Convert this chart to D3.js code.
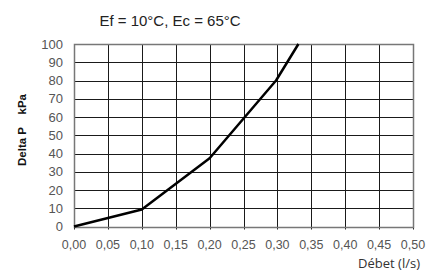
<!DOCTYPE html>
<html>
<head>
<meta charset="utf-8">
<script src="https://cdn.jsdelivr.net/npm/d3@7"></script>
<style>
  body { margin: 0; background: #fff; }
  svg { display: block; }
</style>
</head>
<body>
<div id="chart"></div>
<script>
// values
const debet = [0, 0.10, 0.20, 0.298, 0.331];
const deltaP = [0, 9.3, 37.4, 80, 100];
const xTicks = [0, 0.05, 0.10, 0.15, 0.20, 0.25, 0.30, 0.35, 0.40, 0.45, 0.50];
const yTicks = [0, 10, 20, 30, 40, 50, 60, 70, 80, 90, 100];
const title = 'Ef = 10°C, Ec = 65°C';
const xTitle = 'Débet (l/s)';
const yTitle = 'Delta P    kPa';

const width = 427, height = 273;
const margin = {left: 74, right: 14, top: 44, bottom: 46};

const svg = d3.select('#chart').append('svg')
    .attr('width', width)
    .attr('height', height);

const x = d3.scaleLinear().domain([0, 0.5]).range([margin.left, width - margin.right]);
const y = d3.scaleLinear().domain([0, 100]).range([height - margin.bottom - 0.5, margin.top]);

const fmt = d => d3.format('.2f')(d).replace('.', ',');

// grid
svg.append('g')
    .selectAll('line')
    .data(xTicks)
    .join('line')
    .attr('x1', d => Math.round(x(d)) + 0.5)
    .attr('x2', d => Math.round(x(d)) + 0.5)
    .attr('y1', y(100))
    .attr('y2', y(0) + 3)
    .attr('stroke', '#1a1a1a')
    .attr('stroke-width', 1);

svg.append('g')
    .selectAll('line')
    .data(yTicks)
    .join('line')
    .attr('x1', x(0))
    .attr('x2', x(0.5))
    .attr('y1', d => Math.round(y(d)) + 0.5)
    .attr('y2', d => Math.round(y(d)) + 0.5)
    .attr('stroke', '#1a1a1a')
    .attr('stroke-width', 1);

// frame
svg.append('rect')
    .attr('x', Math.round(x(0)) + 0.5)
    .attr('y', Math.round(y(100)) + 0.5)
    .attr('width', Math.round(x(0.5)) - Math.round(x(0)))
    .attr('height', Math.round(y(0)) - Math.round(y(100)))
    .attr('fill', 'none')
    .attr('stroke', '#777')
    .attr('stroke-width', 1.5);

// tick labels
svg.append('g')
    .selectAll('text')
    .data(yTicks)
    .join('text')
    .attr('x', 63)
    .attr('y', d => y(d) + 4.5)
    .attr('text-anchor', 'end')
    .attr('font-family', 'Liberation Sans, Arial, sans-serif')
    .attr('font-size', 13)
    .attr('fill', '#555')
    .text(d => d);

svg.append('g')
    .selectAll('text')
    .data(xTicks)
    .join('text')
    .attr('x', d => x(d))
    .attr('y', 249)
    .attr('text-anchor', 'middle')
    .attr('font-family', 'Liberation Sans, Arial, sans-serif')
    .attr('font-size', 12.5)
    .attr('fill', '#555')
    .text(fmt);

// curve
const line = d3.line()
    .x(d => x(d[0]))
    .y(d => y(d[1]));

svg.append('path')
    .datum(d3.zip(debet, deltaP))
    .attr('d', line)
    .attr('fill', 'none')
    .attr('stroke', '#000')
    .attr('stroke-width', 2.5)
    .attr('stroke-linejoin', 'round');

// titles
svg.append('text')
    .attr('x', 170)
    .attr('y', 26)
    .attr('text-anchor', 'middle')
    .attr('font-family', 'Liberation Sans, Arial, sans-serif')
    .attr('font-size', 15)
    .attr('fill', '#222')
    .text(title);

svg.append('text')
    .attr('transform', 'translate(26,130) rotate(-90)')
    .attr('text-anchor', 'middle')
    .attr('font-family', 'Liberation Sans, Arial, sans-serif')
    .attr('font-size', 11.5)
    .attr('font-weight', 'bold')
    .attr('fill', '#111')
    .style('white-space', 'pre')
    .text(yTitle);

svg.append('text')
    .attr('x', 420)
    .attr('y', 268)
    .attr('text-anchor', 'end')
    .attr('font-family', 'Open Sans, DejaVu Sans, sans-serif')
    .attr('font-size', 13)
    .attr('fill', '#333')
    .text(xTitle);
</script>
</body>
</html>
